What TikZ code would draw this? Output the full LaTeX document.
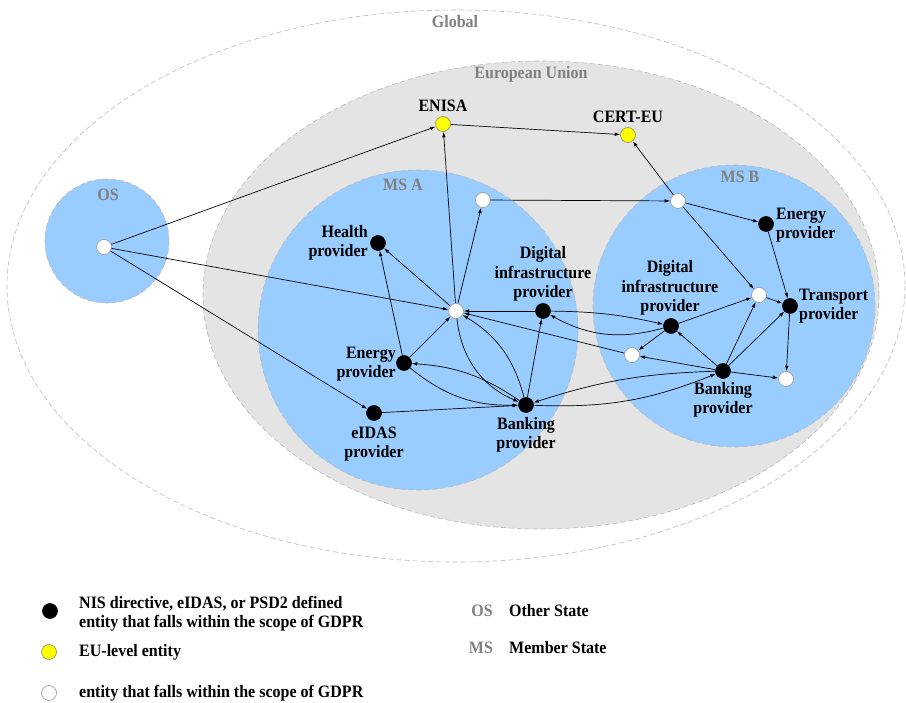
\documentclass[tikz,border=0pt]{standalone}
\usepackage{fontspec}
\setmainfont{Liberation Serif}[FakeStretch=0.92]
\usetikzlibrary{arrows.meta, positioning}
\definecolor{msblue}{RGB}{153,204,255}
\definecolor{eugray}{RGB}{228,228,228}
\definecolor{zonegray}{RGB}{128,128,128}
\definecolor{eugold}{RGB}{255,255,0}

\begin{document}
\begin{tikzpicture}[
    x=1pt, y=-1pt,
    zone/.style={draw=gray!55, dash pattern=on 5pt off 3pt, line width=0.6pt},
    txt/.style={font=\bfseries\fontsize{17.4}{19.5}\selectfont, inner sep=0pt, align=center},
    zlbl/.style={txt, text=zonegray},
    dot/.style={circle, minimum size=15pt, inner sep=0pt, line width=0.6pt},
    nis/.style={dot, fill=black, draw=black},
    eul/.style={dot, fill=eugold, draw=gray!70!olive},
    gdpr/.style={dot, fill=white, draw=gray!80},
    link/.style={-{Latex[length=5.5pt, width=3.6pt]}, line width=0.7pt}
  ]
  \useasboundingbox (0,0) rectangle (906,703);
  % zones
  \draw[zone] (456,286) ellipse [x radius=449, y radius=276];
  \draw[zone, fill=eugray] (541,295) ellipse [x radius=338, y radius=234];
  \draw[zone, fill=msblue] (107,241) circle [radius=62];
  \draw[zone, fill=msblue] (418,330) circle [radius=160];
  \draw[zone, fill=msblue] (734,306) circle [radius=141];
  \node[zlbl] (glbT) at (455,22) {Global};
  \node[zlbl] (euT) at (531,74) {European Union};
  \node[zlbl] (osT) at (108,195) {OS};
  \node[zlbl] (msaT) at (403,185) {MS A};
  \node[zlbl] (msbT) at (740,177) {MS B};

  % entities
  \node[gdpr] (os) at (104,247) {};
  \node[eul] (enisa) at (443,124) {};
  \node[eul] (cert) at (628,135) {};
  % MS A
  \node[gdpr] (topA) at (483,200) {};
  \node[gdpr] (hubA) at (456,311) {};
  \node[nis] (hlthA) at (378,243) {};
  \node[nis] (digA) at (543,311) {};
  \node[nis] (enrA) at (404,363) {};
  \node[nis] (eidA) at (374,413) {};
  \node[nis] (bnkA) at (526,405) {};
  % MS B
  \node[gdpr] (topB) at (678,201) {};
  \node[nis] (enrB) at (766,224) {};
  \node[gdpr] (midB) at (759,295) {};
  \node[nis] (trnB) at (790,306) {};
  \node[nis] (digB) at (671,326) {};
  \node[gdpr] (lowB) at (632,355) {};
  \node[nis] (bnkB) at (723,371) {};
  \node[gdpr] (endB) at (786,379) {};

  % entity names
  \node[txt] (enisaT) at (443,106) {ENISA};
  \node[txt] (certT) at (628,117) {CERT-EU};
  \node[txt, anchor=east, align=right] (hlthT) at (368,243) {Health\\provider};
  \node[txt] (digAT) at (543,274) {Digital\\infrastructure\\provider};
  \node[txt, anchor=east, align=right] (enrAT) at (396,364) {Energy\\provider};
  \node[txt] (eidAT) at (374,444) {eIDAS\\provider};
  \node[txt] (bnkAT) at (526,435) {Banking\\provider};
  \node[txt] (digBT) at (670,288) {Digital\\infrastructure\\provider};
  \node[txt, anchor=west, align=left] (enrBT) at (776,225) {Energy\\provider};
  \node[txt, anchor=west, align=left] (trnBT) at (799,306) {Transport\\provider};
  \node[txt] (bnkBT) at (723,400) {Banking\\provider};

  % links
  \foreach \a/\b in {os/enisa, os/hubA, os/eidA, enisa/cert, hubA/enisa,
      topB/cert, topA/topB, hubA/topA, hubA/hlthA, enrA/hlthA, enrA/hubA,
      digA/hubA, eidA/bnkA, bnkA/digA, lowB/hubA, bnkB/lowB, digB/lowB,
      bnkB/digB, digB/midB, bnkB/midB, bnkB/trnB, bnkB/endB, midB/trnB,
      enrB/trnB, trnB/endB, topB/enrB, topB/midB}
    \draw[link] (\a) -- (\b);
  % two-way links
  \foreach \a/\b/\bnd in {hubA/bnkA/30, bnkA/hubA/22, bnkA/enrA/15,
      enrA/bnkA/20, digA/digB/-6, digB/digA/-22, bnkB/bnkA/8, bnkA/bnkB/12}
    \draw[link] (\a) to[bend right=\bnd] (\b);

  % legend
  \node[nis] (keyNis) at (50,611) {};
  \node[eul] (keyEu) at (49,652) {};
  \node[gdpr] (keyGd) at (49,693) {};
  \node[txt, anchor=west, align=left] (keyNisT) at (79,614)
    {NIS directive, eIDAS, or PSD2 defined\\entity that falls within the scope of GDPR};
  \node[txt, anchor=west] (keyEuT) at (79,652) {EU-level entity};
  \node[txt, anchor=west] (keyGdT) at (79,693) {entity that falls within the scope of GDPR};
  \node[zlbl] (keyOs) at (482,611) {OS};
  \node[txt, anchor=west] (keyOsT) at (509,611) {Other State};
  \node[zlbl] (keyMs) at (481,648) {MS};
  \node[txt, anchor=west] (keyMsT) at (509,648) {Member State};
\end{tikzpicture}
\end{document}
